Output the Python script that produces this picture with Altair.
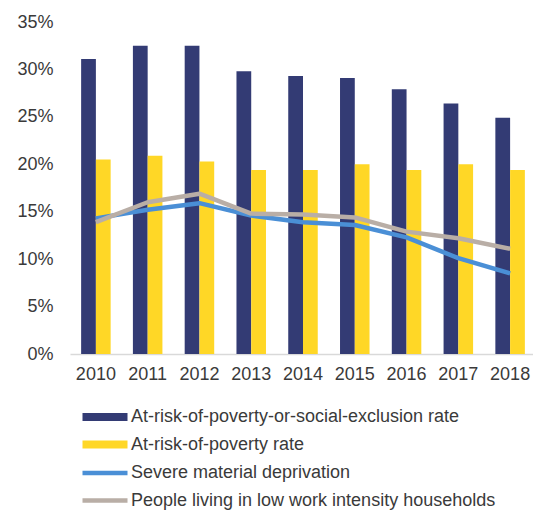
import altair as alt
import pandas as pd

years = ["2010", "2011", "2012", "2013", "2014", "2015", "2016", "2017", "2018"]
arope = [31.1, 32.5, 32.5, 29.8, 29.3, 29.1, 27.9, 26.4, 24.9]
arp = [20.5, 20.9, 20.3, 19.4, 19.4, 20.0, 19.4, 20.0, 19.4]
smd = [14.3, 15.2, 15.9, 14.6, 13.9, 13.6, 12.3, 10.1, 8.5]
lwi = [13.9, 16.0, 16.9, 14.8, 14.7, 14.4, 12.9, 12.2, 11.1]

bar_series = ["At-risk-of-poverty-or-social-exclusion rate", "At-risk-of-poverty rate"]
line_series = ["Severe material deprivation", "People living in low work intensity households"]
bar_colors = ["#333B74", "#FFD726"]
line_colors = ["#4A8FD6", "#B9AEA6"]
y_ticks = [0, 5, 10, 15, 20, 25, 30, 35]

bar_df = pd.DataFrame({
    "year": years * 2,
    "series": [bar_series[0]] * 9 + [bar_series[1]] * 9,
    "value": arope + arp,
})
line_df = pd.DataFrame({
    "year": years * 2,
    "series": [line_series[0]] * 9 + [line_series[1]] * 9,
    "value": smd + lwi,
})

FONT = "Liberation Sans"
TXT = "#3A3A3A"

x_enc = alt.X(
    "year:N",
    sort=years,
    scale=alt.Scale(paddingInner=0.43, paddingOuter=0.215, range=[0, 466]),
    axis=alt.Axis(title=None, labelAngle=0, ticks=False, domainColor="#D9D9D9",
                  domainWidth=1.5, labelPadding=11, labelFontSize=18,
                  labelColor=TXT, labelFont=FONT),
)
y_enc = alt.Y(
    "value:Q",
    scale=alt.Scale(domain=[0, 35], nice=False),
    axis=alt.Axis(title=None, values=y_ticks, labelExpr="datum.value + '%'",
                  grid=False, ticks=False, domain=False, labelPadding=17,
                  labelFontSize=18, labelColor=TXT, labelFont=FONT),
)

common_legend = dict(
    orient="none", title=None, direction="vertical",
    symbolSize=100, labelFontSize=18, labelFont=FONT, labelColor=TXT,
    labelOffset=17, rowPadding=9.5, padding=0, labelLimit=0,
)

bars = alt.Chart(bar_df).mark_bar().encode(
    x=x_enc,
    xOffset=alt.XOffset("series:N", sort=bar_series),
    y=y_enc,
    fill=alt.Fill(
        "series:N",
        scale=alt.Scale(domain=bar_series, range=bar_colors),
        legend=alt.Legend(
            legendX=26, legendY=386,
            symbolType="M-4.5,-0.8H4.5V0.8H-4.5Z",
            symbolStrokeWidth=0, symbolOpacity=1,
            **common_legend,
        ),
    ),
)

line_legend = alt.Legend(
    legendX=26, legendY=442,
    symbolType="M-4.5,0H4.5", symbolStrokeWidth=4.5,
    **common_legend,
)
stroke_scale = alt.Scale(domain=line_series, range=line_colors)

line_blue = alt.Chart(line_df).transform_filter(
    alt.datum.series == line_series[0]
).mark_line(strokeWidth=4.5, strokeJoin="round").encode(
    x=x_enc, y=y_enc,
    stroke=alt.Stroke("series:N", scale=stroke_scale, legend=line_legend),
)
line_grey = alt.Chart(line_df).transform_filter(
    alt.datum.series == line_series[1]
).mark_line(strokeWidth=4.5, strokeJoin="round").encode(
    x=x_enc, y=y_enc,
    stroke=alt.Stroke("series:N", scale=stroke_scale, legend=line_legend),
)

chart = alt.layer(bars, line_blue, line_grey).properties(
    width=463, height=332,
    autosize=alt.AutoSizeParams(type="none"),
    padding={"left": 62, "top": 14, "right": 0, "bottom": 160},
).configure_view(stroke=None)

chart.save("out.html", embed_options={"renderer": "svg", "actions": False})
